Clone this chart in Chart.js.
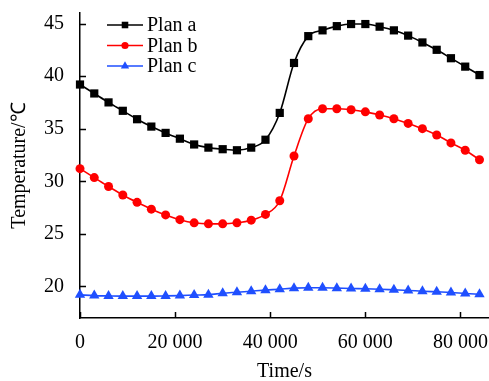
<!DOCTYPE html>
<html>
<head>
<meta charset="utf-8">
<script src="https://cdn.jsdelivr.net/npm/chart.js@4/dist/chart.umd.min.js"></script>
<style>
  html, body { margin: 0; padding: 0; background: #fff; }
  #graf { display: block; }
</style>
</head>
<body>
<canvas id="graf" width="489" height="381"></canvas>
<script>
// les donnees (temps en s, temperature en degC)
var temps = [0, 3000, 6000, 9000, 12000, 15000, 18000, 21000, 24000, 27000,
    30000, 33000, 36000, 39000, 42000, 45000, 48000, 51000, 54000, 57000,
    60000, 63000, 66000, 69000, 72000, 75000, 78000, 81000, 84000];
var planA = [39.2, 38.35, 37.5, 36.7, 35.9, 35.2, 34.6, 34.05, 33.5, 33.2,
    33.05, 32.95, 33.2, 33.95, 36.5, 41.25, 43.8, 44.35, 44.75, 44.95,
    44.95, 44.7, 44.35, 43.85, 43.2, 42.5, 41.7, 40.9, 40.1];
var planB = [31.2, 30.35, 29.5, 28.7, 28.0, 27.35, 26.8, 26.35, 26.05, 25.95,
    25.95, 26.05, 26.3, 26.85, 28.15, 32.4, 35.95, 36.9, 36.9, 36.8,
    36.6, 36.3, 35.95, 35.5, 35.0, 34.4, 33.65, 32.95, 32.05];
var planC = [19.2, 19.13, 19.1, 19.08, 19.08, 19.08, 19.1, 19.13, 19.18, 19.22,
    19.35, 19.45, 19.55, 19.65, 19.74, 19.84, 19.87, 19.87, 19.84, 19.8,
    19.78, 19.74, 19.68, 19.62, 19.55, 19.49, 19.43, 19.33, 19.25];
var noms = ['Plan a', 'Plan b', 'Plan c'];
var xTicks = [0, 20000, 40000, 60000, 80000];
var yTicks = [20, 25, 30, 35, 40, 45];

var police = 'Liberation Serif';

function points(ys) {
    var out = [];
    for (var i = 0; i < temps.length; i++) {
        out.push({x: temps[i], y: ys[i]});
    }
    return out;
}

function milliers(v) {
    return String(v).replace(/\B(?=(\d{3})+(?!\d))/g, ' ');
}

// ticks vers l'interieur + legende ligne/marqueur
var dessinPlugin = {
    id: 'dessin',
    afterDraw: function(chart) {
        var ctx = chart.ctx;
        var xs = chart.scales.x, ys = chart.scales.y;
        var area = chart.chartArea;
        ctx.save();
        ctx.strokeStyle = '#000';
        ctx.lineWidth = 1.5;
        ctx.beginPath();
        xs.ticks.forEach(function(t, i) {
            var px = Math.round(xs.getPixelForTick(i)) + 0.5;
            ctx.moveTo(px, area.bottom);
            ctx.lineTo(px, area.bottom - 6);
        });
        ys.ticks.forEach(function(t, i) {
            var py = Math.round(ys.getPixelForTick(i)) + 0.5;
            ctx.moveTo(area.left, py);
            ctx.lineTo(area.left + 6, py);
        });
        ctx.stroke();

        // legende
        var x0 = 107, x1 = 143, y0 = 25, dy = 20.5;
        chart.data.datasets.forEach(function(ds, i) {
            var y = y0 + i * dy;
            ctx.strokeStyle = ds.borderColor;
            ctx.lineWidth = ds.borderWidth;
            ctx.beginPath();
            ctx.moveTo(x0, y);
            ctx.lineTo(x1, y);
            ctx.stroke();
            ctx.fillStyle = ds.pointBackgroundColor;
            ctx.strokeStyle = ds.pointBackgroundColor;
            Chart.helpers.drawPoint(ctx, {
                pointStyle: ds.pointStyle,
                radius: ds.pointRadius * 0.8,
                borderWidth: 0
            }, (x0 + x1) / 2, y);
            ctx.fillStyle = '#000';
            ctx.font = '20px "' + police + '"';
            ctx.textBaseline = 'middle';
            ctx.textAlign = 'left';
            ctx.fillText(ds.label, 147, y + 1);
        });
        ctx.restore();
    }
};

var couleurs = ['#000000', '#ff0000', '#1f4fff'];
var styles = ['rect', 'circle', 'triangle'];
var rayons = [5.8, 4.5, 6];
var series = [planA, planB, planC];

var datasets = series.map(function(s, i) {
    return {
        label: noms[i],
        data: points(s),
        borderColor: couleurs[i],
        backgroundColor: couleurs[i],
        pointBackgroundColor: couleurs[i],
        pointBorderColor: couleurs[i],
        pointBorderWidth: 0,
        pointStyle: styles[i],
        pointRadius: rayons[i],
        borderWidth: 1.6,
        cubicInterpolationMode: 'monotone',
        fill: false,
        clip: 8
    };
});

var graf = new Chart(document.getElementById('graf'), {
    type: 'line',
    data: {datasets: datasets},
    plugins: [dessinPlugin],
    options: {
        responsive: false,
        animation: false,
        devicePixelRatio: 1,
        layout: {autoPadding: false, padding: {top: 13, right: 0, left: 0, bottom: 0}},
        plugins: {
            legend: {display: false},
            tooltip: {enabled: false}
        },
        scales: {
            x: {
                type: 'linear',
                min: 0,
                max: 86000,
                afterBuildTicks: function(s) {
                    s.ticks = xTicks.map(function(v) { return {value: v}; });
                },
                afterFit: function(s) {
                    s.height = 63;
                    s.paddingLeft = 0;
                    s.paddingRight = 0;
                },
                grid: {display: false, drawTicks: false},
                border: {display: true, color: '#000', width: 1.5},
                ticks: {
                    padding: 13,
                    color: '#000',
                    maxRotation: 0,
                    font: {family: police, size: 20},
                    callback: function(v) { return milliers(v); }
                },
                title: {
                    display: true,
                    text: 'Time/s',
                    color: '#000',
                    font: {family: police, size: 20},
                    padding: {top: 4, bottom: -3}
                }
            },
            y: {
                min: 17,
                max: 46,
                afterBuildTicks: function(s) {
                    s.ticks = yTicks.map(function(v) { return {value: v}; });
                },
                afterFit: function(s) {
                    s.width = 80;
                    s.paddingTop = 0;
                    s.paddingBottom = 0;
                },
                grid: {display: false, drawTicks: false},
                border: {display: true, color: '#000', width: 1.5},
                ticks: {
                    padding: 16,
                    color: '#000',
                    font: {family: police, size: 20}
                },
                title: {
                    display: true,
                    text: 'Temperature/℃',
                    color: '#000',
                    font: {family: police, size: 20},
                    padding: {top: 8, bottom: 0}
                }
            }
        }
    }
});
</script>
</body>
</html>
